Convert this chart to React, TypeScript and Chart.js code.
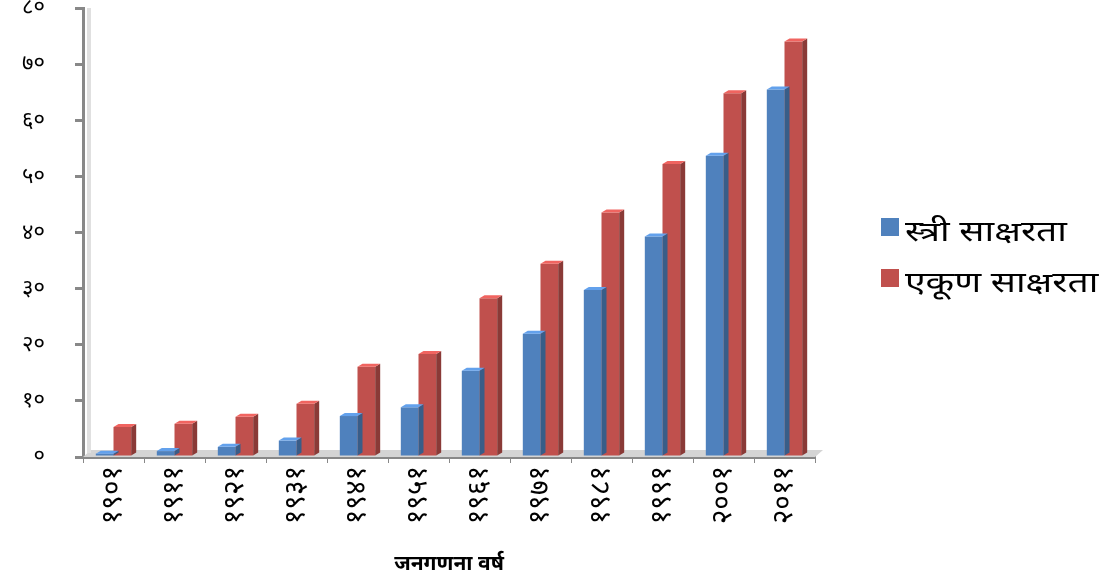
import React, { useEffect, useRef } from "react";
import { Chart, registerables } from "chart.js";

Chart.register(...registerables);

const categories = ["१९०१", "१९११", "१९२१", "१९३१", "१९४१", "१९५१", "१९६१", "१९७१", "१९८१", "१९९१", "२००१", "२०११"];
const femaleLiteracy = [0.6, 1.05, 1.81, 2.93, 7.3, 8.86, 15.35, 21.97, 29.76, 39.29, 53.67, 65.46];
const totalLiteracy = [5.35, 5.92, 7.16, 9.5, 16.1, 18.33, 28.3, 34.45, 43.57, 52.21, 64.83, 74.04];
const yTickLabels = ["०", "१०", "२०", "३०", "४०", "५०", "६०", "७०", "८०"];
const seriesNames = ["स्त्री साक्षरता", "एकूण साक्षरता"];
const seriesColors = ["#4F81BD", "#C0504D"];
const xTitle = "जनगणना वर्ष";

const FONT = "'Noto Sans', 'Noto Sans Devanagari', 'Lohit Devanagari', sans-serif";

function shade(hex: string, f: number) {
  const n = parseInt(hex.slice(1), 16);
  const c = (v: number) => Math.max(0, Math.min(255, Math.round(v * f)));
  return `rgb(${c((n >> 16) & 255)},${c((n >> 8) & 255)},${c(n & 255)})`;
}

const floor = {
  id: "floor",
  beforeDatasetsDraw(chart: any) {
    const { ctx, chartArea } = chart;
    const b = chartArea.bottom;
    ctx.save();
    ctx.fillStyle = "#d4d4d4";
    ctx.beginPath();
    ctx.moveTo(chartArea.left, b);
    ctx.lineTo(chartArea.left + 8, b - 7);
    ctx.lineTo(chartArea.right + 8, b - 7);
    ctx.lineTo(chartArea.right, b);
    ctx.closePath();
    ctx.fill();
    ctx.fillStyle = "#e0e0e0";
    ctx.fillRect(chartArea.left + 4, chartArea.top, 4, b - chartArea.top - 4);
    ctx.restore();
  },
};

const sideFaces = {
  id: "sideFaces",
  afterDatasetsDraw(chart: any) {
    const ctx = chart.ctx;
    chart.data.datasets.forEach((ds: any, di: number) => {
      const meta = chart.getDatasetMeta(di);
      meta.data.forEach((bar: any) => {
        const { x, y, base, width } = bar.getProps(["x", "y", "base", "width"], true);
        const left = x - width / 2;
        const right = x + width / 2;
        const d = 5;
        ctx.save();
        ctx.fillStyle = shade(ds.backgroundColor, 0.72);
        ctx.beginPath();
        ctx.moveTo(right, y);
        ctx.lineTo(right + d, y - 3);
        ctx.lineTo(right + d, base - 3);
        ctx.lineTo(right, base);
        ctx.closePath();
        ctx.fill();
        ctx.fillStyle = shade(ds.backgroundColor, 1.25);
        ctx.beginPath();
        ctx.moveTo(left, y);
        ctx.lineTo(left + d, y - 3);
        ctx.lineTo(right + d, y - 3);
        ctx.lineTo(right, y);
        ctx.closePath();
        ctx.fill();
        ctx.restore();
      });
    });
  },
};

const sideLegend = {
  id: "sideLegend",
  afterDraw(chart: any) {
    const ctx = chart.ctx;
    const x0 = chart.chartArea.right + 66;
    const yTop = 218;
    const step = 51;
    chart.data.datasets.forEach((ds: any, i: number) => {
      const y = yTop + i * step;
      ctx.save();
      ctx.fillStyle = ds.backgroundColor;
      ctx.fillRect(x0, y, 18, 18);
      ctx.fillStyle = "#000";
      ctx.font = `28px ${FONT}`;
      ctx.textBaseline = "middle";
      ctx.textAlign = "left";
      ctx.translate(x0 + 24, y + 15);
      ctx.scale(1.33, 1);
      ctx.fillText(ds.label, 0, 0);
      ctx.restore();
    });
  },
};

export default function App() {
  const ref = useRef<HTMLCanvasElement>(null);
  useEffect(() => {
    document.body.style.margin = "0";
    const chart = new Chart(ref.current!, {
      type: "bar",
      data: {
        labels: categories,
        datasets: [
          {
            label: seriesNames[0],
            data: femaleLiteracy,
            backgroundColor: seriesColors[0],
            barPercentage: 1,
            categoryPercentage: 0.58,
          },
          {
            label: seriesNames[1],
            data: totalLiteracy,
            backgroundColor: seriesColors[1],
            barPercentage: 1,
            categoryPercentage: 0.58,
          },
        ],
      },
      options: {
        animation: false,
        responsive: false,
        maintainAspectRatio: false,
        layout: { padding: { left: 6, right: 293, top: 0, bottom: 2 } },
        plugins: {
          tooltip: { enabled: false },
          legend: { display: false },
        },
        scales: {
          x: {
            afterFit: (s: any) => {
              s.height = 120;
            },
            grid: { display: true, drawOnChartArea: false, tickLength: 6, color: "#888", offset: true },
            border: { display: true, color: "#888", width: 3 },
            ticks: {
              maxRotation: 90,
              minRotation: 90,
              padding: 3,
              color: "#000",
              font: { family: FONT, size: 28 },
            },
            title: {
              display: true,
              text: xTitle,
              color: "#000",
              font: { family: FONT, size: 21, weight: "bold" },
              padding: { top: 0, bottom: 0 },
            },
          },
          y: {
            min: 0,
            max: 80,
            afterFit: (s: any) => {
              s.width = 77;
              s.paddingTop = 8;
              s.paddingBottom = 8;
            },
            grid: { display: true, drawOnChartArea: false, tickLength: 8, color: "#888", lineWidth: 3 },
            border: { display: true, color: "#888", width: 3 },
            ticks: {
              stepSize: 10,
              color: "#000",
              padding: 30,
              font: { family: FONT, size: 22 },
              callback: (_v: any, i: number) => yTickLabels[i],
            },
          },
        },
      },
      plugins: [floor, sideFaces, sideLegend],
    });
    return () => chart.destroy();
  }, []);
  return (
    <div style={{ position: "absolute", left: 0, top: 0, width: 1108, height: 579, background: "#fff" }}>
      <canvas ref={ref} width={1108} height={579} />
    </div>
  );
}
